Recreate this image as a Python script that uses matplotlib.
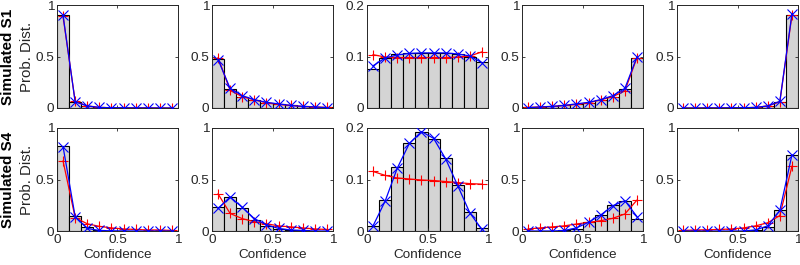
import matplotlib
matplotlib.use("Agg")
import matplotlib.pyplot as plt
import numpy as np

plt.rcParams['font.family'] = ['Liberation Sans', 'DejaVu Sans']

centers = [0.05, 0.15, 0.25, 0.35, 0.45, 0.55, 0.65, 0.75, 0.85, 0.95]
row_labels = ["Simulated S1", "Simulated S4"]

# Row 1 (Simulated S1)
s1_bars = [
    [0.90, 0.06, 0.02, 0.005, 0.003, 0.002, 0.001, 0.001, 0.0, 0.0],
    [0.48, 0.18, 0.11, 0.08, 0.05, 0.035, 0.025, 0.015, 0.01, 0.005],
    [0.076, 0.098, 0.104, 0.106, 0.107, 0.107, 0.107, 0.105, 0.100, 0.090],
    [0.005, 0.01, 0.015, 0.025, 0.035, 0.05, 0.08, 0.11, 0.18, 0.49],
    [0.0, 0.0, 0.001, 0.001, 0.002, 0.003, 0.005, 0.02, 0.06, 0.90],
]
s1_blue = [
    [0.90, 0.06, 0.02, 0.005, 0.003, 0.002, 0.001, 0.001, 0.0, 0.0],
    [0.47, 0.19, 0.12, 0.08, 0.055, 0.04, 0.025, 0.015, 0.01, 0.003],
    [0.082, 0.097, 0.103, 0.106, 0.107, 0.107, 0.107, 0.105, 0.101, 0.088],
    [0.003, 0.01, 0.015, 0.025, 0.04, 0.055, 0.08, 0.12, 0.19, 0.495],
    [0.0, 0.0, 0.001, 0.001, 0.002, 0.003, 0.005, 0.02, 0.065, 0.915],
]
s1_red = [
    [0.89, 0.065, 0.02, 0.005, 0.003, 0.002, 0.001, 0.001, 0.0, 0.0],
    [0.49, 0.17, 0.11, 0.08, 0.05, 0.035, 0.025, 0.015, 0.01, 0.005],
    [0.1035, 0.099, 0.098, 0.098, 0.098, 0.098, 0.098, 0.099, 0.101, 0.109],
    [0.005, 0.01, 0.015, 0.025, 0.035, 0.05, 0.08, 0.11, 0.165, 0.49],
    [0.0, 0.0, 0.001, 0.001, 0.002, 0.003, 0.005, 0.02, 0.06, 0.90],
]

# Row 2 (Simulated S4)
s4_bars = [
    [0.83, 0.15, 0.04, 0.01, 0.003, 0.002, 0.001, 0.0, 0.0, 0.0],
    [0.23, 0.33, 0.22, 0.11, 0.05, 0.02, 0.01, 0.005, 0.0, 0.0],
    [0.010, 0.060, 0.125, 0.170, 0.192, 0.179, 0.142, 0.090, 0.036, 0.006],
    [0.0, 0.0, 0.0, 0.005, 0.02, 0.085, 0.16, 0.25, 0.29, 0.12],
    [0.0, 0.0, 0.0, 0.0, 0.0, 0.0, 0.01, 0.04, 0.20, 0.74],
]
s4_blue = [
    [0.82, 0.14, 0.025, 0.005, 0.002, 0.001, 0.0, 0.0, 0.0, 0.0],
    [0.22, 0.33, 0.23, 0.12, 0.06, 0.025, 0.01, 0.005, 0.0, 0.0],
    [0.010, 0.058, 0.122, 0.170, 0.193, 0.180, 0.140, 0.088, 0.035, 0.003],
    [0.0, 0.0, 0.0, 0.005, 0.03, 0.085, 0.155, 0.245, 0.295, 0.14],
    [0.0, 0.0, 0.0, 0.0, 0.0, 0.0, 0.01, 0.05, 0.20, 0.74],
]
s4_red = [
    [0.68, 0.13, 0.07, 0.045, 0.03, 0.02, 0.015, 0.01, 0.01, 0.005],
    [0.36, 0.17, 0.12, 0.09, 0.07, 0.05, 0.04, 0.03, 0.02, 0.015],
    [0.1156, 0.108, 0.103, 0.101, 0.099, 0.098, 0.096, 0.094, 0.092, 0.091],
    [0.02, 0.03, 0.04, 0.05, 0.068, 0.084, 0.10, 0.123, 0.165, 0.30],
    [0.005, 0.01, 0.012, 0.015, 0.02, 0.03, 0.05, 0.08, 0.15, 0.63],
]

ylims = [1, 1, 0.2, 1, 1]
yticks_full = [0, 0.5, 1]
yticks_small = [0, 0.1, 0.2]
ytick_labels_full = ["0", "0.5", "1"]
ytick_labels_small = ["0", "0.1", "0.2"]
xticks = [0, 0.5, 1]
xtick_labels = ["0", "0.5", "1"]

W, H = 800, 265
fig = plt.figure(figsize=(W / 100, H / 100), dpi=100)

col_left = [57, 212, 367, 522, 677]
ax_w = 121
row_top = [5, 128]
ax_h = 103

axcol = (0.15, 0.15, 0.15)
fs = 9.7

rows = [(s1_bars, s1_blue, s1_red), (s4_bars, s4_blue, s4_red)]
for r, (bars, blue, red) in enumerate(rows):
    for c in range(5):
        l = col_left[c] / W
        b = (H - row_top[r] - ax_h) / H
        ax = fig.add_axes([l, b, ax_w / W, ax_h / H])
        ax.bar(centers, bars[c], width=0.1, color=(0.83, 0.83, 0.83),
               edgecolor='black', linewidth=0.8, zorder=1)
        ax.plot(centers, red[c], color='red', marker='+', markersize=7.5,
                linewidth=0.9, markeredgewidth=0.8, zorder=2)
        ax.plot(centers, blue[c], color='blue', marker='x', markersize=6.5,
                linewidth=0.9, markeredgewidth=0.8, zorder=3)
        ax.set_xlim(0, 1)
        ax.set_ylim(0, ylims[c])
        ax.set_xticks(xticks)
        if ylims[c] == 1:
            ax.set_yticks(yticks_full)
            ax.set_yticklabels(ytick_labels_full)
        else:
            ax.set_yticks(yticks_small)
            ax.set_yticklabels(ytick_labels_small)
        if r == 1:
            ax.set_xticklabels(xtick_labels)
            ax.set_xlabel("Confidence", fontsize=fs, color=axcol, labelpad=2)
        else:
            ax.set_xticklabels([])
        ax.tick_params(direction='in', length=2.5, width=0.6, top=True,
                       right=True, labelsize=fs, colors=axcol, pad=2)
        for s in ax.spines.values():
            s.set_color(axcol)
            s.set_linewidth(0.7)
        if c == 0:
            ax.set_ylabel("Prob. Dist.", fontsize=10.8, color=axcol, labelpad=1)
            yc = (H - row_top[r] - ax_h / 2) / H
            fig.text(8 / W, yc, row_labels[r], rotation=90, ha='center',
                     va='center', fontsize=11, fontweight='bold', color='black')

fig.savefig("out.png", dpi=100)
